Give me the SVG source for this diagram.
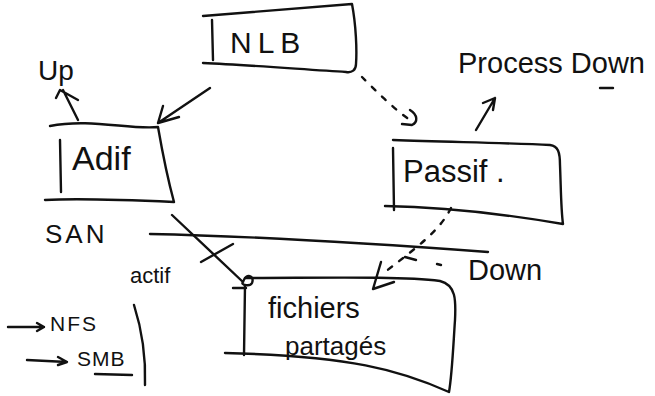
<svg xmlns="http://www.w3.org/2000/svg" width="655" height="396" viewBox="0 0 655 396">
  <style>
    .ink { fill: none; stroke: #111; stroke-width: 2.4; stroke-linecap: round; stroke-linejoin: round; }
    .dash { stroke-dasharray: 5 9; }
    .hand { font-family: "Liberation Sans", "DejaVu Sans", sans-serif; fill: #111; }
  </style>
  <rect width="655" height="396" fill="#fff"/>

  <!-- NLB -->
  <g id="nlb">
    <path class="ink" d="M203 16 C260 11 310 7 352 4 C356 25 357 50 356 64 C356 70 352 73 346 72 C310 70 250 65 203 63"/>
    <path class="ink" d="M212 20 L213 60"/>
    <text class="hand" x="230" y="53" font-size="30" letter-spacing="6">NLB</text>
  </g>

  <!-- Actif -->
  <g id="actif">
    <path class="ink" d="M50 126 C90 118 130 130 158 127 C162 150 168 180 174 202 C130 200 80 198 45 200"/>
    <path class="ink" d="M60 140 L61 192"/>
    <text class="hand" x="72" y="170" font-size="34">Adif</text>
  </g>

  <!-- Passif -->
  <g id="passif">
    <path class="ink" d="M393 140 C450 142 510 143 550 145 C558 146 560 152 560 165 C561 190 561 210 563 224 C510 215 450 207 385 206"/>
    <path class="ink" d="M393 148 L394 210"/>
    <text class="hand" x="403" y="182" font-size="31">Passif .</text>
  </g>

  <!-- fichiers partagés -->
  <g id="fichiers">
    <path class="ink" d="M245 278 C320 278 400 276 440 281 C456 285 456 300 455 320 C453 350 452 375 449 392 C400 370 350 356 225 353"/>
    <path class="ink" d="M233 288 L246 288 M245 285 L244 355"/>
    <text class="hand" x="268" y="318" font-size="29">fichiers</text>
    <text class="hand" x="285" y="355" font-size="26">partagés</text>
  </g>

  <!-- labels -->
  <g id="labels">
    <text class="hand" x="38" y="80" font-size="28">Up</text>
    <text class="hand" x="458" y="73" font-size="29">Process Down</text>
    <path class="ink" d="M600 88 L613 88"/>
    <text class="hand" x="45" y="243" font-size="26" letter-spacing="3">SAN</text>
    <text class="hand" x="130" y="283" font-size="22">actif</text>
    <text class="hand" x="468" y="280" font-size="29">Down</text>
    <text class="hand" x="50" y="331" font-size="21" letter-spacing="2">NFS</text>
    <text class="hand" x="77" y="366" font-size="21" letter-spacing="1">SMB</text>
    <path class="ink" d="M95 374 L132 375"/>
    <path class="ink" d="M134 305 C142 330 146 355 145 385"/>
  </g>

  <!-- connectors -->
  <g id="connectors">
    <!-- NLB to Actif -->
    <path class="ink" d="M210 88 L158 123 M163 106 L158 123 L179 117"/>
    <!-- Actif up -->
    <path class="ink" d="M78 120 L63 90 M56 98 L60 90 L78 100"/>
    <!-- NLB to Passif, dotted -->
    <path class="ink dash" d="M362 77 C375 90 395 110 410 120"/>
    <path class="ink" d="M410 110 C418 115 418 122 412 125 L402 124"/>
    <!-- Passif up -->
    <path class="ink" d="M476 130 L495 98 M483 103 L495 98 L493 110"/>
    <!-- SAN line -->
    <path class="ink" d="M150 234 C250 236 380 244 488 252"/>
    <!-- Actif to fichiers -->
    <path class="ink" d="M172 215 L243 282 C246 272 255 276 252 283 C250 287 240 285 243 282"/>
    <path class="ink" d="M201 262 L233 244"/>
    <!-- Passif to fichiers, dashed -->
    <path class="ink dash" d="M451 208 C440 230 420 245 385 272"/>
    <path class="ink" d="M381 262 L373 289 L394 282"/>
    <path class="ink" d="M405 257 L416 260 M437 264 L441 265"/>
    <!-- NFS / SMB -->
    <path class="ink" d="M8 327 L44 327 M37 323 L44 327 L37 331"/>
    <path class="ink" d="M27 360 L67 362 M58 357 L67 362 L58 365"/>
  </g>
</svg>
